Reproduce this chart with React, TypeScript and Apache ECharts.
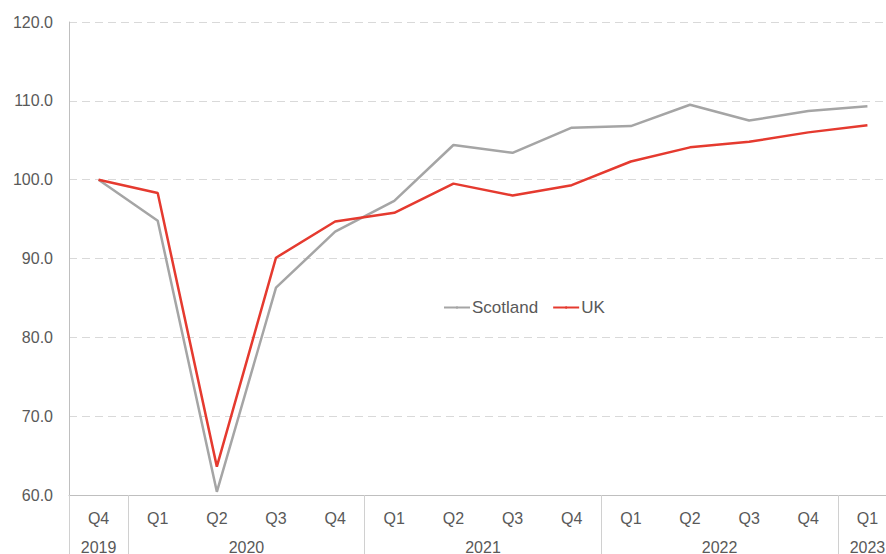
import React, { useEffect, useRef } from "react";
import * as echarts from "echarts";

const quarters = ["Q4", "Q1", "Q2", "Q3", "Q4", "Q1", "Q2", "Q3", "Q4", "Q1", "Q2", "Q3", "Q4", "Q1"];
const yearLabels: [number, string][] = [
  [0, "2019"],
  [2.5, "2020"],
  [6.5, "2021"],
  [10.5, "2022"],
  [13, "2023"],
];
const yearBoundaries = [0, 1, 5, 9, 13];
const scotland = [100, 94.8, 60.4, 86.3, 93.4, 97.3, 104.4, 103.4, 106.6, 106.8, 109.5, 107.5, 108.7, 109.3];
const uk = [100, 98.3, 63.6, 90.1, 94.7, 95.8, 99.5, 98.0, 99.3, 102.3, 104.1, 104.8, 106.0, 106.9];

const textColor = "#595959";
const font = "'Liberation Sans', Arial, sans-serif";

export default function App() {
  const ref = useRef<HTMLDivElement>(null);
  useEffect(() => {
    document.body.style.margin = "0";
    const chart = echarts.init(ref.current!, null, { renderer: "svg" });
    chart.setOption({
      animation: false,
      textStyle: { fontFamily: font },
      grid: { left: 69, top: 22, width: 828, bottom: 59, containLabel: false, outerBoundsMode: "none" },
      legend: {
        data: ["Scotland", "UK"],
        left: 438,
        top: 294,
        itemWidth: 26,
        itemHeight: 3,
        itemGap: 14,
        textStyle: { color: textColor, fontSize: 17, fontFamily: font, padding: [0, 0, 0, -3] },
      },
      xAxis: [
        {
          type: "category",
          data: quarters,
          boundaryGap: true,
          axisLine: { show: true, lineStyle: { color: "#BFBFBF", width: 1 } },
          axisTick: {
            show: true,
            length: 62,
            interval: (i: number) => yearBoundaries.includes(i),
            lineStyle: { color: "#D0D0D0", width: 1 },
          },
          axisLabel: { color: textColor, fontSize: 16, margin: 15, interval: 0, fontFamily: font },
          splitLine: { show: false },
        },
        {
          type: "value",
          position: "bottom",
          offset: 29,
          min: -0.5,
          max: 13.5,
          interval: 0.5,
          axisLine: { show: false },
          axisTick: { show: false },
          splitLine: { show: false },
          axisLabel: {
            color: textColor,
            fontSize: 16,
            margin: 15,
            fontFamily: font,
            showMinLabel: true,
            showMaxLabel: true,
            formatter: (v: number) => {
              const f = yearLabels.find((y) => Math.abs(y[0] - v) < 1e-6);
              return f ? f[1] : "";
            },
          },
        },
      ],
      yAxis: {
        type: "value",
        min: 60,
        max: 120,
        interval: 10,
        axisLine: { show: true, onZero: false, lineStyle: { color: "#BFBFBF", width: 1 } },
        axisTick: { show: false },
        axisLabel: {
          color: textColor,
          fontSize: 16,
          margin: 16,
          fontFamily: font,
          formatter: (v: number) => v.toFixed(1),
        },
        splitLine: { show: true, lineStyle: { color: "#D9D9D9", type: [8, 5], width: 1 } },
      },
      series: [
        {
          name: "Scotland",
          type: "line",
          data: scotland,
          symbol: "none",
          lineStyle: { color: "#A5A5A5", width: 2.5 },
          itemStyle: { color: "#A5A5A5" },
          z: 2,
        },
        {
          name: "UK",
          type: "line",
          data: uk,
          symbol: "none",
          lineStyle: { color: "#E53A2F", width: 2.5 },
          itemStyle: { color: "#E53A2F" },
          z: 3,
        },
      ],
    });
    return () => chart.dispose();
  }, []);
  return <div ref={ref} style={{ width: 886, height: 554 }} />;
}
